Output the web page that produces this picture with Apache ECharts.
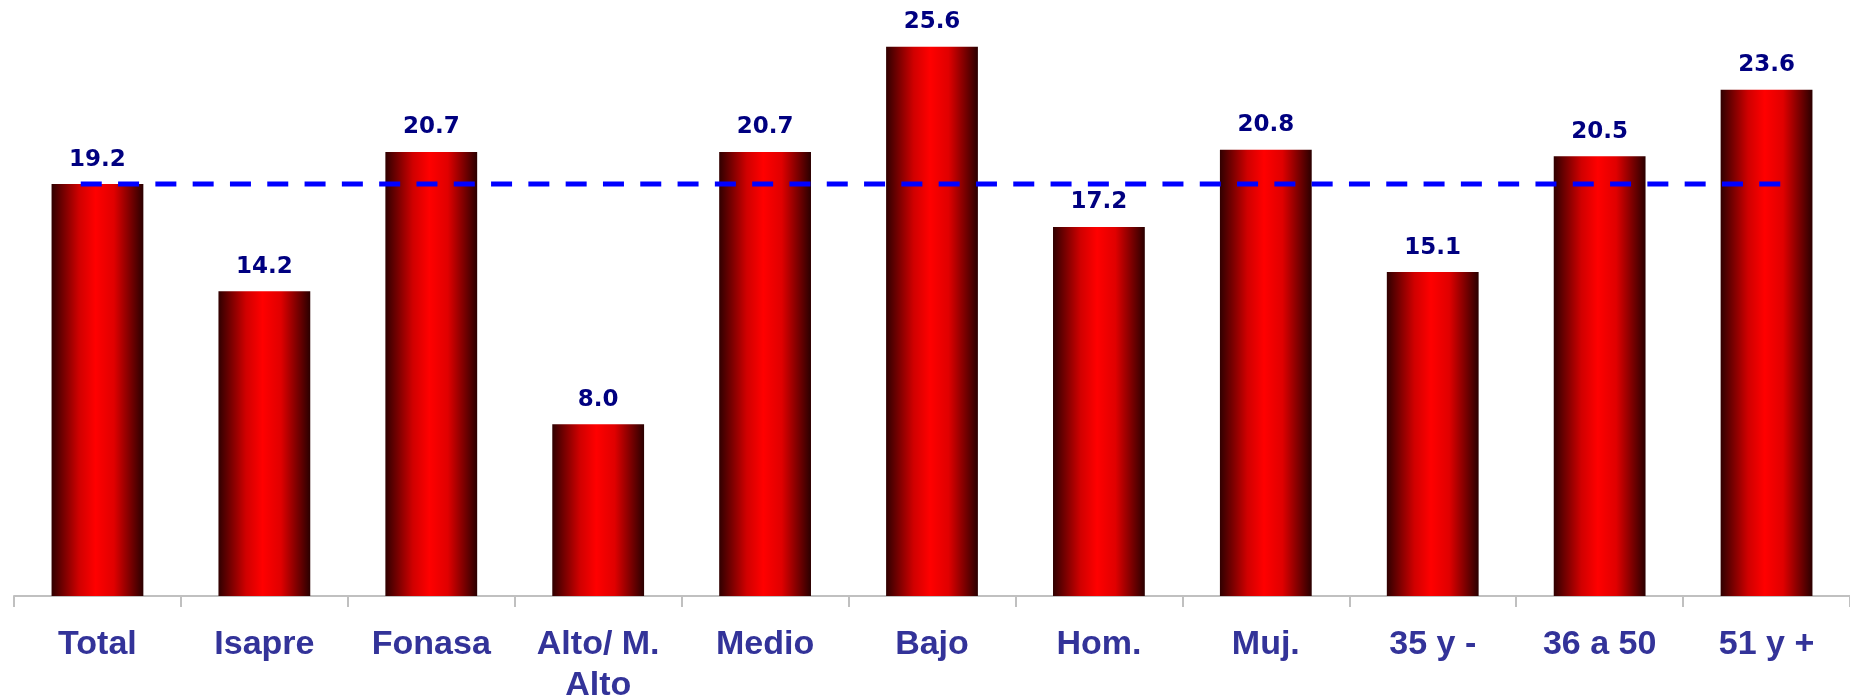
<!DOCTYPE html>
<html>
<head>
<meta charset="utf-8">
<script src="https://cdn.jsdelivr.net/npm/echarts@6/dist/echarts.min.js"></script>
<style>
html,body{margin:0;padding:0;background:#fff;}
#chart{width:1850px;height:698px;}
</style>
</head>
<body>
<div id="chart"></div>
<script>
const categories = ['Total', 'Isapre', 'Fonasa', 'Alto/ M.\nAlto', 'Medio', 'Bajo', 'Hom.', 'Muj.', '35 y -', '36 a 50', '51 y +'];
const values = [19.2, 14.2, 20.7, 8.0, 20.7, 25.6, 17.2, 20.8, 15.1, 20.5, 23.6];
const referenceValue = 19.2;

// reference line runs slightly past the centres of first and last categories
const overhang = 0.1;
const referenceLine = [
  [0.5 - overhang, referenceValue],
  [categories.length - 0.5 + overhang, referenceValue]
];

const chart = echarts.init(document.getElementById('chart'));
chart.setOption({
  animation: false,
  backgroundColor: '#ffffff',
  grid: { left: 14, right: 0, top: 6, bottom: 102, containLabel: false, outerBoundsMode: 'none' },
  xAxis: [
    {
      type: 'category',
      data: categories,
      boundaryGap: true,
      axisLine: { show: true, lineStyle: { color: '#c0c0c0', width: 2 } },
      axisTick: { show: true, length: 11, lineStyle: { color: '#c0c0c0', width: 2 } },
      axisLabel: {
        margin: 28,
        interval: 0,
        color: '#333399',
        fontFamily: 'Liberation Sans, Arial, sans-serif',
        fontWeight: 'bold',
        fontSize: 34,
        lineHeight: 41
      }
    },
    {
      type: 'value',
      min: 0,
      max: categories.length,
      show: false
    }
  ],
  yAxis: {
    type: 'value',
    min: 0,
    max: 27.5,
    show: false,
    splitLine: { show: false }
  },
  series: [
    {
      type: 'bar',
      xAxisIndex: 0,
      data: values,
      barWidth: '55%',
      itemStyle: {
        color: new echarts.graphic.LinearGradient(0, 0, 1, 0, [
          { offset: 0, color: '#300000' },
          { offset: 0.3, color: '#d00000' },
          { offset: 0.48, color: '#ff0000' },
          { offset: 0.68, color: '#e00000' },
          { offset: 1, color: '#2a0000' }
        ])
      },
      label: {
        show: true,
        position: 'top',
        distance: 13,
        color: '#000080',
        fontFamily: 'DejaVu Sans, Verdana, sans-serif',
        fontWeight: 'bold',
        fontSize: 23,
        formatter: p => p.value.toFixed(1)
      },
      z: 2
    },
    {
      type: 'line',
      xAxisIndex: 1,
      data: referenceLine,
      symbol: 'none',
      lineStyle: { color: '#0000ff', width: 5, type: [21, 16.3] },
      z: 5,
      silent: true
    }
  ]
});
</script>
</body>
</html>
